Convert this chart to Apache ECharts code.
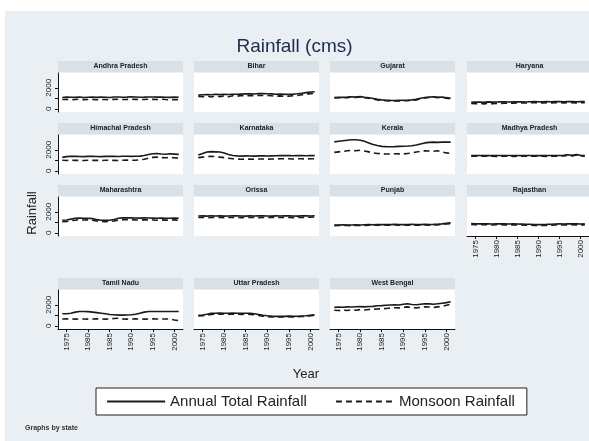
<!DOCTYPE html>
<html><head><meta charset="utf-8">
<script src="https://cdn.jsdelivr.net/npm/echarts@6/dist/echarts.min.js"></script>
<style>html,body{margin:0;padding:0;background:#fff}#c{width:589px;height:441px}</style>
</head><body><div id="c"></div>
<script>
const years = [1974,1975,1976,1977,1978,1979,1980,1981,1982,1983,1984,1985,1986,1987,1988,1989,1990,1991,1992,1993,1994,1995,1996,1997,1998,1999,2000,2001];
const xTickLabels = [1975,1980,1985,1990,1995,2000];
const yTicks = [0,1000,2000];
const yTickLabels = [0,2000];
const states = ["Andhra Pradesh","Bihar","Gujarat","Haryana","Himachal Pradesh","Karnataka","Kerala","Madhya Pradesh","Maharashtra","Orissa","Punjab","Rajasthan","Tamil Nadu","Uttar Pradesh","West Bengal"];

const annualAndhra = [1080,1120,1100,1090,1130,1080,1100,1120,1090,1110,1100,1080,1120,1130,1100,1110,1140,1120,1100,1110,1130,1120,1110,1130,1100,1090,1110,1100];
const monsoonAndhra = [880,900,860,890,910,870,880,900,860,890,880,850,900,910,880,890,920,900,880,890,910,900,880,910,880,860,890,870];
const annualBihar = [1300,1330,1360,1340,1380,1350,1370,1360,1390,1380,1400,1420,1430,1410,1450,1440,1430,1420,1380,1400,1370,1380,1400,1430,1480,1540,1600,1620];
const monsoonBihar = [1180,1150,1220,1120,1230,1150,1240,1140,1250,1200,1260,1230,1280,1250,1290,1270,1260,1240,1200,1230,1190,1210,1240,1270,1330,1380,1440,1460];
const annualGujarat = [1080,1100,1090,1110,1150,1120,1160,1100,1050,980,900,850,820,800,790,800,810,820,850,900,1000,1080,1120,1150,1100,1130,1060,1000];
const monsoonGujarat = [1030,1050,1040,1060,1110,1070,1120,1050,1000,930,850,800,770,750,740,750,760,770,800,850,950,1030,1080,1120,1060,1090,1010,950];
const annualHaryana = [620,640,650,630,660,640,650,660,670,650,660,670,660,650,670,680,670,660,680,670,690,680,670,690,680,670,690,680];
const monsoonHaryana = [500,480,520,470,530,480,520,500,540,520,540,560,560,550,570,580,570,560,580,570,590,580,570,590,580,570,590,580];
const annualHP = [1280,1350,1380,1370,1360,1350,1370,1380,1360,1350,1370,1380,1370,1360,1380,1390,1370,1380,1400,1450,1550,1620,1650,1600,1580,1620,1590,1560];
const monsoonHP = [1000,980,1020,990,1000,980,1010,990,1000,980,1010,1000,990,980,1010,1020,1000,1010,1040,1100,1200,1280,1300,1260,1240,1270,1240,1200];
const annualKarnataka = [1500,1650,1780,1820,1800,1780,1700,1550,1450,1420,1400,1420,1410,1400,1420,1430,1410,1420,1430,1440,1450,1440,1430,1450,1440,1430,1450,1440];
const monsoonKarnataka = [1250,1300,1350,1380,1350,1300,1250,1200,1150,1120,1100,1120,1110,1100,1120,1130,1110,1120,1130,1140,1150,1140,1130,1150,1140,1130,1150,1140];
const annualKerala = [2750,2800,2850,2900,2950,2950,2900,2800,2650,2500,2400,2320,2300,2290,2300,2320,2330,2350,2380,2450,2550,2650,2700,2720,2700,2720,2730,2720];
const monsoonKerala = [1750,1800,1850,1900,1950,1900,1950,1880,1800,1700,1650,1620,1600,1600,1620,1610,1600,1650,1700,1780,1850,1900,1880,1850,1900,1800,1700,1650];
const annualMP = [1450,1440,1460,1450,1440,1450,1460,1450,1440,1450,1460,1450,1440,1450,1460,1450,1440,1450,1460,1450,1440,1450,1480,1520,1470,1540,1480,1450];
const monsoonMP = [1380,1390,1370,1400,1380,1390,1370,1400,1380,1390,1370,1400,1380,1390,1370,1400,1380,1390,1370,1400,1380,1390,1420,1480,1400,1500,1420,1380];
const annualMaharashtra = [1200,1220,1300,1380,1400,1380,1390,1350,1250,1200,1180,1200,1260,1380,1420,1430,1420,1410,1400,1420,1410,1400,1380,1400,1390,1380,1400,1390];
const monsoonMaharashtra = [1050,1080,1150,1200,1250,1220,1230,1200,1120,1080,1060,1080,1120,1200,1250,1260,1250,1230,1220,1240,1230,1220,1200,1230,1210,1200,1230,1180];
const annualOrissa = [1600,1610,1590,1620,1600,1610,1590,1600,1620,1610,1600,1590,1610,1600,1620,1610,1600,1590,1610,1600,1620,1610,1600,1590,1610,1620,1600,1620];
const monsoonOrissa = [1450,1470,1440,1460,1450,1470,1440,1460,1450,1470,1440,1460,1450,1470,1440,1460,1450,1470,1440,1460,1450,1470,1440,1460,1450,1470,1480,1500];
const annualPunjab = [740,750,760,750,740,760,750,770,780,770,790,780,790,780,800,790,780,790,800,790,780,800,790,800,820,850,900,950];
const monsoonPunjab = [680,690,700,690,680,700,690,710,720,710,730,720,730,720,740,730,720,730,740,730,720,740,730,740,760,800,850,880];
const annualRajasthan = [880,860,850,860,850,840,850,860,850,840,850,840,830,820,810,790,780,790,800,820,840,850,840,850,860,850,840,850];
const monsoonRajasthan = [800,780,760,780,760,750,770,780,760,750,770,750,740,730,720,700,690,700,710,730,750,760,750,760,770,760,750,760];
const annualTN = [1140,1150,1200,1300,1360,1360,1350,1300,1250,1200,1150,1080,1050,1020,1020,1030,1050,1100,1200,1300,1360,1360,1360,1360,1360,1360,1360,1360];
const monsoonTN = [650,660,650,640,660,650,640,650,660,650,640,660,700,720,650,640,650,660,650,640,650,660,650,640,650,640,560,500];
const annualUP = [1000,1030,1100,1180,1200,1210,1200,1190,1210,1200,1180,1200,1190,1150,1080,1000,950,920,900,910,900,920,900,910,930,950,1000,1050];
const monsoonUP = [940,960,1020,1080,1120,1100,1130,1090,1120,1100,1070,1120,1080,1050,990,920,880,850,840,860,830,870,840,860,880,900,950,1000];
const annualWB = [1750,1780,1760,1800,1790,1810,1820,1800,1830,1850,1900,1920,1950,1980,2000,1980,2050,2100,2020,2000,2050,2100,2080,2050,2100,2150,2200,2280];
const monsoonWB = [1480,1450,1500,1460,1520,1480,1540,1500,1550,1580,1600,1620,1650,1700,1720,1700,1750,1800,1720,1700,1760,1800,1780,1750,1800,1850,1950,2050];

const annualAll = [annualAndhra,annualBihar,annualGujarat,annualHaryana,annualHP,annualKarnataka,annualKerala,annualMP,annualMaharashtra,annualOrissa,annualPunjab,annualRajasthan,annualTN,annualUP,annualWB];
const monsoonAll = [monsoonAndhra,monsoonBihar,monsoonGujarat,monsoonHaryana,monsoonHP,monsoonKarnataka,monsoonKerala,monsoonMP,monsoonMaharashtra,monsoonOrissa,monsoonPunjab,monsoonRajasthan,monsoonTN,monsoonUP,monsoonWB];

const colLeft = [58,194,330,467];
const rowTop = [73,135,197,290];
const pw = 125, ph = 39;
const font = 'Liberation Sans, Arial, sans-serif';

const grids=[], xAxes=[], yAxes=[], series=[], graphics=[];
graphics.push({type:'rect', shape:{x:5,y:11,width:600,height:440}, style:{fill:'#e9eff3'}, silent:true, z:-10});
states.forEach((s,i)=>{
  const r=Math.floor(i/4), c=i%4;
  const left=colLeft[c], top=rowTop[r];
  grids.push({left:left, top:top, width:pw, height:ph, show:true, backgroundColor:'#fff', borderWidth:0, containLabel:false});
  graphics.push({type:'rect', shape:{x:left, y:top-12, width:pw, height:11}, style:{fill:'#d7e1e7'}, silent:true, z:1});
  graphics.push({type:'text', x:left+pw/2, y:top-6.5, style:{text:s, fill:'#222', font:'bold 7px '+font, textAlign:'center', textVerticalAlign:'middle'}, z:2});
  const showX = i>=11;
  xAxes.push({gridIndex:i, type:'value', min:1973, max:2002, show:showX,
    axisLine:{show:true, onZero:false, lineStyle:{color:'#111', width:1}},
    axisTick:{show:true, length:3, customValues:xTickLabels, lineStyle:{color:'#111'}},
    axisLabel:{show:true, customValues:xTickLabels, rotate:90, fontSize:8, color:'#222', margin:4, fontFamily:font, formatter:v=>String(v)},
    splitLine:{show:false}});
  const showY = c===0;
  yAxes.push({gridIndex:i, type:'value', min:-300, max:3400, show:showY,
    axisLine:{show:true, lineStyle:{color:'#111', width:1}},
    axisTick:{show:true, length:3, customValues:yTicks, lineStyle:{color:'#111'}},
    axisLabel:{show:true, customValues:yTickLabels, rotate:90, fontSize:8, color:'#222', margin:5, fontFamily:font, formatter:v=>String(v)},
    splitLine:{show:false}});
  series.push({name:'Annual Total Rainfall', type:'line', xAxisIndex:i, yAxisIndex:i, symbol:'none', animation:false,
    data:years.map((y,k)=>[y, annualAll[i][k]]), lineStyle:{color:'#1a1a1a', width:1.6}, itemStyle:{color:'#1a1a1a'}});
  series.push({name:'Monsoon Rainfall', type:'line', xAxisIndex:i, yAxisIndex:i, symbol:'none', animation:false,
    data:years.map((y,k)=>[y, monsoonAll[i][k]]), lineStyle:{color:'#1a1a1a', width:1.6, type:[6,4]}, itemStyle:{color:'#1a1a1a'}});
});
graphics.push({type:'text', x:32, y:213, rotation:Math.PI/2, style:{text:'Rainfall', fill:'#222', font:'13px '+font, textAlign:'center', textVerticalAlign:'middle'}});
graphics.push({type:'text', x:306, y:374, style:{text:'Year', fill:'#222', font:'13px '+font, textAlign:'center', textVerticalAlign:'middle'}});
graphics.push({type:'text', x:25, y:428, style:{text:'Graphs by state', fill:'#333', font:'bold 7px '+font, textAlign:'left', textVerticalAlign:'middle'}});

const chart = echarts.init(document.getElementById('c'), null, {renderer:'canvas'});
chart.setOption({
  animation:false,
  backgroundColor:'#ffffff',
  title:{text:'Rainfall (cms)', left:'center', top:32, textStyle:{fontSize:19, fontWeight:'normal', color:'#1f2d4d', fontFamily:font}},
  legend:{data:['Annual Total Rainfall','Monsoon Rainfall'], left:96, top:388, itemWidth:58, itemHeight:12, itemGap:28,
    padding:[6,12,6,10], borderColor:'#222', borderWidth:1, backgroundColor:'#fff',
    itemStyle:{opacity:0},
    lineStyle:{width:2.2},
    textStyle:{fontSize:15, color:'#222', fontFamily:font}},
  grid:grids, xAxis:xAxes, yAxis:yAxes, series:series, graphic:graphics
});
</script></body></html>
